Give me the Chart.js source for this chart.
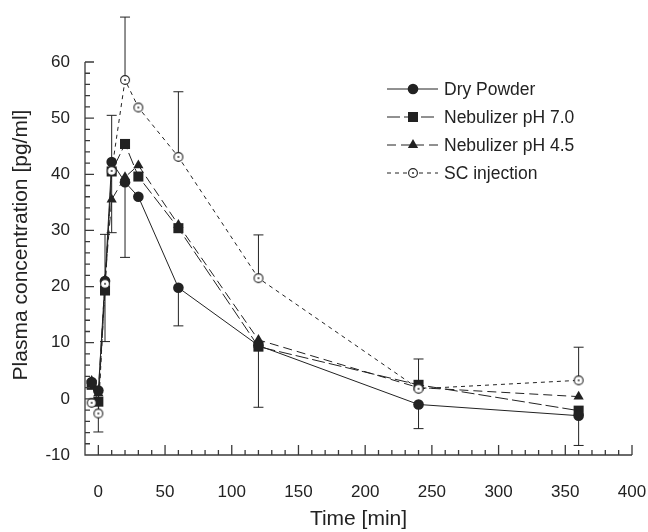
<!DOCTYPE html>
<html>
<head>
<meta charset="utf-8">
<script src="https://cdn.jsdelivr.net/npm/chart.js"></script>
<style>
  html, body { margin: 0; padding: 0; background: #fff; }
</style>
</head>
<body>
<canvas id="chart" width="648" height="532"></canvas>
<script>
// sampling times (min) and mean plasma concentrations (pg/ml)
const times = [-5, 0, 5, 10, 20, 30, 60, 120, 240, 360];
const dryPowder = [3.0, 1.5, 21.0, 42.2, 38.6, 36.0, 19.8, 9.5, -1.0, -3.0];
const nebPH70 = [2.5, -0.5, 19.3, 40.5, 45.4, 39.6, 30.4, 9.3, 2.5, -2.1];
const nebPH45 = [3.2, 1.0, 21.2, 35.5, 39.5, 41.6, 31.0, 10.5, 2.0, 0.4];
const scInjection = [-0.7, -2.6, 20.5, 40.6, 56.8, 51.9, 43.1, 21.5, 1.8, 3.3];

// SD bars: SC drawn upward, dry powder drawn downward
const scSD = [null, null, 8.8, 9.9, 11.2, null, 11.6, 7.7, 5.3, 5.9];
const dryPowderSD = [null, 7.4, 10.8, 12.6, 13.4, null, 6.8, 11.0, 4.3, 5.3];

const xTicks = [0, 50, 100, 150, 200, 250, 300, 350, 400];
const yTicks = [-10, 0, 10, 20, 30, 40, 50, 60];

const FONT = "'Liberation Sans', Arial, sans-serif";
const INK = '#222';

function toPoints(values) {
  return times.map((t, i) => ({ x: t, y: values[i] }));
}

// open circle with a dot in the middle
function openDot() {
  const c = document.createElement('canvas');
  c.width = 12;
  c.height = 12;
  const g = c.getContext('2d');
  g.fillStyle = '#fff';
  g.strokeStyle = INK;
  g.lineWidth = 1.1;
  g.beginPath();
  g.arc(6, 6, 4.4, 0, Math.PI * 2);
  g.fill();
  g.stroke();
  g.fillStyle = INK;
  g.beginPath();
  g.arc(6, 6, 0.9, 0, Math.PI * 2);
  g.fill();
  return c;
}
const scMarker = openDot();

const series = [
  { label: 'SC injection', data: scInjection, style: scMarker, radius: 6, dash: [4, 4] },
  { label: 'Dry Powder', data: dryPowder, style: 'circle', radius: 5.3, dash: [] },
  { label: 'Nebulizer pH 7.0', data: nebPH70, style: 'rect', radius: 7.1, dash: [13, 4] },
  { label: 'Nebulizer pH 4.5', data: nebPH45, style: 'triangle', radius: 5.9, dash: [9, 5] }
];

const legendOrder = ['Dry Powder', 'Nebulizer pH 7.0', 'Nebulizer pH 4.5', 'SC injection'];

function drawMarker(ctx, s, x, y) {
  if (typeof s.style !== 'string') {
    ctx.drawImage(s.style, x - 6, y - 6);
    return;
  }
  ctx.fillStyle = INK;
  ctx.beginPath();
  if (s.style === 'circle') {
    ctx.arc(x, y, s.radius, 0, Math.PI * 2);
  } else if (s.style === 'rect') {
    const h = s.radius * Math.SQRT1_2;
    ctx.rect(x - h, y - h, 2 * h, 2 * h);
  } else {
    let a = 0;
    ctx.moveTo(x + Math.sin(a) * s.radius, y - Math.cos(a) * s.radius);
    a += Math.PI * 2 / 3;
    ctx.lineTo(x + Math.sin(a) * s.radius, y - Math.cos(a) * s.radius);
    a += Math.PI * 2 / 3;
    ctx.lineTo(x + Math.sin(a) * s.radius, y - Math.cos(a) * s.radius);
    ctx.closePath();
  }
  ctx.fill();
}

const errorBars = {
  id: 'errorBars',
  beforeDatasetsDraw(chart) {
    const { ctx, scales: { x, y } } = chart;
    ctx.save();
    ctx.strokeStyle = INK;
    ctx.lineWidth = 1;
    ctx.beginPath();
    const bar = (t, from, to) => {
      const px = x.getPixelForValue(t);
      const y0 = y.getPixelForValue(from);
      const y1 = y.getPixelForValue(to);
      ctx.moveTo(px, y0);
      ctx.lineTo(px, y1);
      ctx.moveTo(px - 5, y1);
      ctx.lineTo(px + 5, y1);
    };
    times.forEach((t, i) => {
      if (scSD[i] != null) bar(t, scInjection[i], scInjection[i] + scSD[i]);
      if (dryPowderSD[i] != null) bar(t, dryPowder[i], dryPowder[i] - dryPowderSD[i]);
    });
    ctx.stroke();
    ctx.restore();
  }
};

const axisMarks = {
  id: 'axisMarks',
  afterDraw(chart) {
    const { ctx, chartArea: a, scales: { x, y } } = chart;
    ctx.save();
    ctx.strokeStyle = '#3a3a3a';
    ctx.lineWidth = 1.3;
    ctx.beginPath();
    ctx.moveTo(a.left, a.top);
    ctx.lineTo(a.left, a.bottom);
    ctx.lineTo(a.right, a.bottom);
    for (let v = -10; v <= 60; v += 2) {
      const py = y.getPixelForValue(v);
      ctx.moveTo(a.left, py);
      ctx.lineTo(a.left + (v % 10 === 0 ? 9 : 5), py);
    }
    for (let v = -10; v <= 400; v += 10) {
      const px = x.getPixelForValue(v);
      ctx.moveTo(px, a.bottom);
      ctx.lineTo(px, a.bottom - (v % 50 === 0 ? 10 : 5));
    }
    ctx.stroke();

    // axis titles
    ctx.fillStyle = INK;
    ctx.font = '21px ' + FONT;
    ctx.textAlign = 'center';
    ctx.textBaseline = 'alphabetic';
    ctx.fillText('Time [min]', (a.left + a.right) / 2, 525);
    ctx.save();
    ctx.translate(27, 245);
    ctx.rotate(-Math.PI / 2);
    ctx.fillText('Plasma concentration [pg/ml]', 0, 0);
    ctx.restore();

    // legend
    ctx.font = '17.5px ' + FONT;
    ctx.textAlign = 'left';
    legendOrder.forEach((name, k) => {
      const s = series.find(d => d.label === name);
      const cy = 89 + k * 28;
      ctx.strokeStyle = INK;
      ctx.lineWidth = 1;
      ctx.setLineDash(s.dash);
      ctx.beginPath();
      ctx.moveTo(387, cy);
      ctx.lineTo(438, cy);
      ctx.stroke();
      ctx.setLineDash([]);
      drawMarker(ctx, s, 413, cy);
      ctx.fillStyle = INK;
      ctx.fillText(name, 444, cy + 6);
    });
    ctx.restore();
  }
};

new Chart(document.getElementById('chart'), {
  type: 'line',
  data: {
    datasets: series.map(s => ({
      label: s.label,
      data: toPoints(s.data),
      borderColor: INK,
      borderWidth: 1,
      borderDash: s.dash,
      backgroundColor: INK,
      pointStyle: s.style,
      pointRadius: s.radius,
      pointBackgroundColor: INK,
      pointBorderColor: INK,
      pointBorderWidth: 0,
      tension: 0,
      fill: false
    }))
  },
  options: {
    responsive: false,
    animation: false,
    events: [],
    layout: { padding: { top: 62, right: 16, left: 0, bottom: 0 } },
    plugins: {
      legend: { display: false },
      tooltip: { enabled: false }
    },
    scales: {
      x: {
        type: 'linear',
        min: -10,
        max: 400,
        grid: { display: false, drawTicks: false },
        border: { display: false },
        afterBuildTicks: scale => { scale.ticks = xTicks.map(v => ({ value: v })); },
        afterFit: scale => {
          scale.height = 77;
          scale.paddingLeft = 0;
          scale.paddingRight = 0;
        },
        ticks: { color: INK, font: { size: 17, family: FONT }, padding: 27, maxRotation: 0 }
      },
      y: {
        min: -10,
        max: 60,
        grid: { display: false, drawTicks: false },
        border: { display: false },
        afterBuildTicks: scale => { scale.ticks = yTicks.map(v => ({ value: v })); },
        afterFit: scale => {
          scale.width = 85;
          scale.paddingTop = 0;
          scale.paddingBottom = 0;
        },
        ticks: { color: INK, font: { size: 17, family: FONT }, padding: 15 }
      }
    }
  },
  plugins: [errorBars, axisMarks]
});
</script>
</body>
</html>
